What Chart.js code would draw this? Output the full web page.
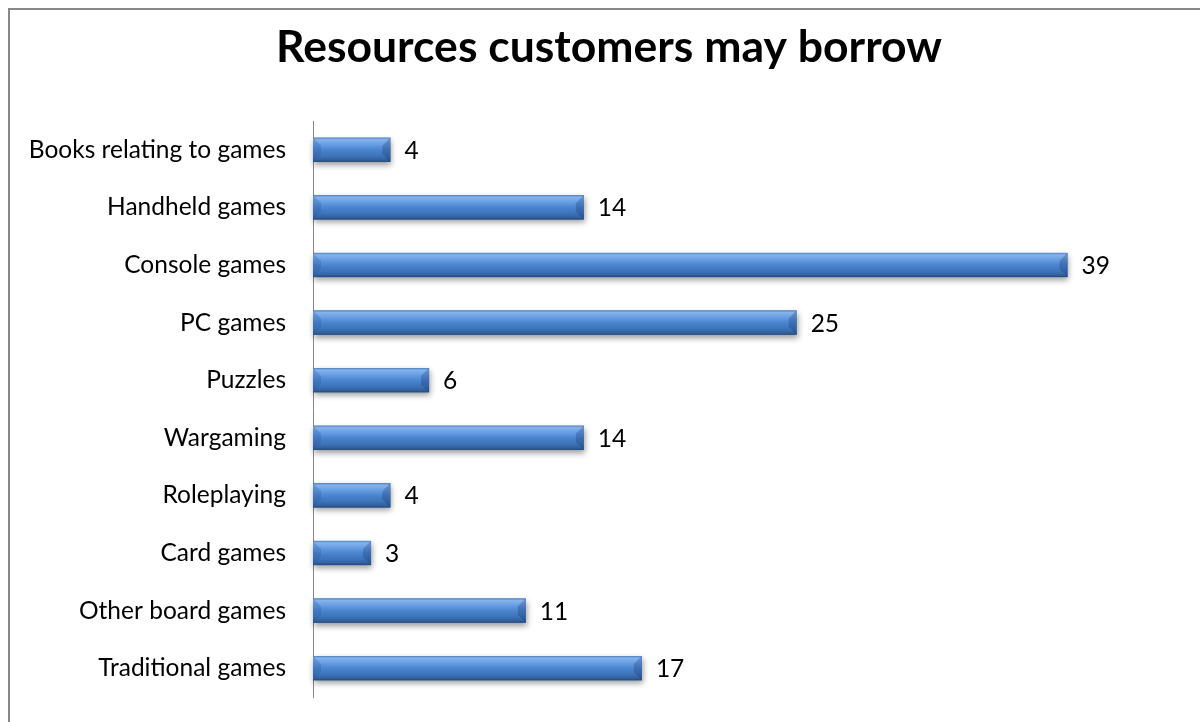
<!DOCTYPE html>
<html><head><meta charset="utf-8">
<script src="https://cdn.jsdelivr.net/npm/chart.js@4.4.1/dist/chart.umd.min.js"></script>
<style>
html,body{margin:0;padding:0;background:#fff;overflow:hidden;}
#wrap{position:relative;width:1200px;height:722px;overflow:hidden;}
#frame{position:absolute;left:8px;top:8px;width:1300px;height:800px;border-left:2px solid #878787;border-top:2px solid #878787;pointer-events:none;box-sizing:border-box;}
canvas{display:block;}
</style></head><body>
<div id="wrap"><canvas id="c" width="1200" height="722"></canvas><div id="frame"></div></div>
<script>
const chartTitle = 'Resources customers may borrow';
const categories = ['Books relating to games','Handheld games','Console games','PC games','Puzzles','Wargaming','Roleplaying','Card games','Other board games','Traditional games'];
const values = [4,14,39,25,6,14,4,3,11,17];
const valueMin = 0;
const valueMax = 45.85;

const labelFont = {family:'Lato', size:24.5, weight:'normal'};

const bevelBars = {
  id:'bevelBars',
  beforeDatasetsDraw(chart){
    const ctx = chart.ctx;
    const meta = chart.getDatasetMeta(0);
    ctx.save();
    meta.data.forEach(el=>{
      const p = el.getProps(['x','y','base','height'], true);
      const top = p.y - p.height/2;
      ctx.shadowColor = 'rgba(0,0,0,0.4)';
      ctx.shadowBlur = 6; ctx.shadowOffsetY = 3; ctx.shadowOffsetX = 1;
      ctx.fillStyle = '#3d6fae';
      ctx.fillRect(p.base, top, p.x - p.base, p.height);
    });
    ctx.restore();
  },
  afterDatasetsDraw(chart){
    const ctx = chart.ctx;
    const meta = chart.getDatasetMeta(0);
    ctx.save();
    meta.data.forEach((el,i)=>{
      const p = el.getProps(['x','y','base','height'], true);
      const top = p.y - p.height/2, bot = p.y + p.height/2;
      const l = p.base, r = p.x;
      const g = ctx.createLinearGradient(0, top, 0, bot);
      g.addColorStop(0, '#4f84c8');
      g.addColorStop(0.08, '#86b3ec');
      g.addColorStop(0.3, '#659ce2');
      g.addColorStop(0.5, '#4a85d0');
      g.addColorStop(0.75, '#3d74ba');
      g.addColorStop(0.92, '#31609d');
      g.addColorStop(1, '#22477a');
      ctx.fillStyle = g;
      ctx.fillRect(l, top, r - l, bot - top);
      const b = Math.min(8, (bot-top)/2 - 1, (r-l)/2);
      ctx.beginPath();
      ctx.moveTo(l, top); ctx.lineTo(l+b, top+b); ctx.lineTo(l+b, bot-b); ctx.lineTo(l, bot); ctx.closePath();
      ctx.fillStyle = 'rgba(40,80,150,0.25)';
      ctx.fill();
      ctx.beginPath();
      ctx.moveTo(r, top); ctx.lineTo(r-b, top+b); ctx.lineTo(r-b, bot-b); ctx.lineTo(r, bot); ctx.closePath();
      ctx.fillStyle = 'rgba(20,50,100,0.28)';
      ctx.fill();
      ctx.fillStyle = '#000';
      ctx.font = `${labelFont.weight} ${labelFont.size}px ${labelFont.family}`;
      ctx.textAlign = 'left';
      ctx.textBaseline = 'middle';
      ctx.fillText(String(values[i]), r + 14, p.y + 1);
    });
    ctx.restore();
  }
};

new Chart(document.getElementById('c'), {
  type:'bar',
  data:{
    labels: categories,
    datasets:[{
      data: values,
      backgroundColor: 'rgba(0,0,0,0)',
      borderWidth: 0,
      barPercentage: 0.42,
      categoryPercentage: 1.0
    }]
  },
  options:{
    indexAxis:'y',
    responsive:false,
    animation:false,
    devicePixelRatio:1,
    layout:{padding:{left:10, right:-8, top:0, bottom:25}},
    plugins:{
      legend:{display:false},
      tooltip:{enabled:false},
      title:{
        display:true,
        text: chartTitle,
        color:'#000',
        font:{family:'Lato', size:44.5, weight:'bold', lineHeight:1.2},
        padding:{top:21, bottom:46.6}
      }
    },
    scales:{
      x:{display:false, min:valueMin, max:valueMax},
      y:{
        afterFit(scale){ scale.width = 303; scale.paddingTop = 0; scale.paddingBottom = 0; },
        grid:{display:false, drawTicks:false},
        border:{display:true, color:'#868686', width:1},
        ticks:{color:'#000', font:labelFont, padding:27}
      }
    }
  },
  plugins:[bevelBars]
});
</script>
</body></html>
